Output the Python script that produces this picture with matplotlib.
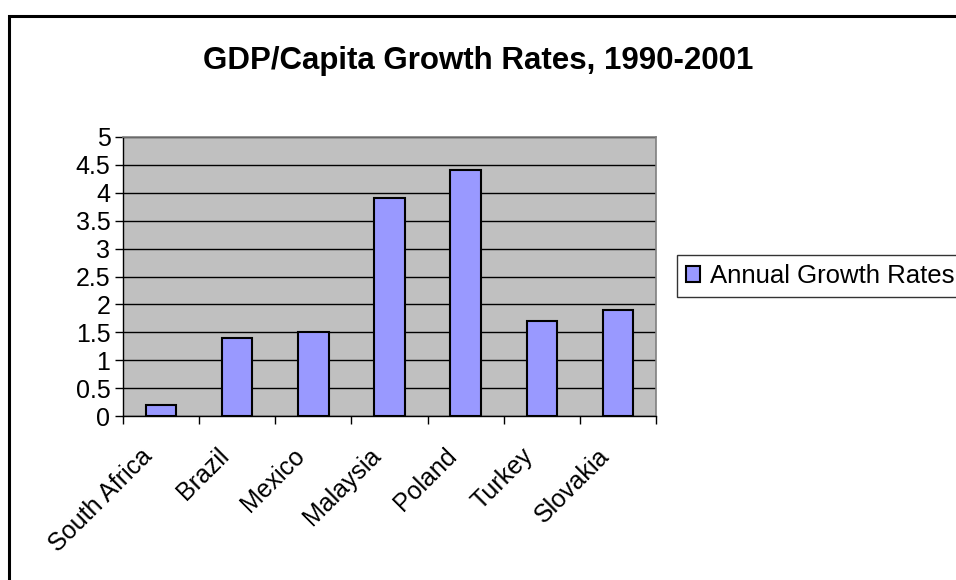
import matplotlib
matplotlib.use('Agg')
import matplotlib.pyplot as plt
import matplotlib.transforms as mtransforms
import numpy as np
from matplotlib.patches import Rectangle

plt.rcParams['font.family'] = ['Liberation Sans', 'DejaVu Sans']

# data
countries = ['South Africa', 'Brazil', 'Mexico', 'Malaysia', 'Poland', 'Turkey', 'Slovakia']
growth = [0.2, 1.4, 1.5, 3.9, 4.4, 1.7, 1.9]
y_ticks = [0, 0.5, 1, 1.5, 2, 2.5, 3, 3.5, 4, 4.5, 5]
y_labels = ['0', '0.5', '1', '1.5', '2', '2.5', '3', '3.5', '4', '4.5', '5']

fig = plt.figure(figsize=(9.56, 5.8), dpi=100)
ax = fig.add_axes([123/956, 1-416/580, (656-123)/956, (416-137)/580])

# outer chart border (runs off the right and bottom edge like the original)
fig.patches.append(Rectangle((9/956, -0.1), 1.2, 1.1 - 16/580, transform=fig.transFigure,
                             fill=False, edgecolor='black', linewidth=2.2, zorder=0))

x = np.arange(len(countries))
ax.set_facecolor('#c0c0c0')
ax.set_axisbelow(True)
ax.yaxis.grid(True, color='black', linewidth=1)
bars = ax.bar(x, growth, width=0.4, color='#9999ff', edgecolor='black', linewidth=1.5,
              label='Annual Growth Rates', zorder=3)

ax.set_xlim(-0.5, len(countries) - 0.5)
ax.set_ylim(0, 5)
ax.set_yticks(y_ticks)
ax.set_yticklabels(y_labels, fontsize=18)

# ticks on category boundaries, labels at centres
ax.set_xticks(np.arange(-0.5, len(countries), 1))
ax.set_xticklabels([])
ax.set_xticks(x, minor=True)
ax.set_xticklabels(countries, minor=True, rotation=45, ha='right', fontsize=18,
                   rotation_mode='anchor')
ax.tick_params(axis='x', which='minor', length=0, pad=20)
ax.tick_params(axis='x', which='major', length=6, color='black', width=1)
ax.tick_params(axis='y', length=6, color='black', width=1, pad=3)

# nudge the rotated labels left so they end just before the bar centre
shift = mtransforms.ScaledTranslation(-0.21, 0, fig.dpi_scale_trans)
for lab in ax.get_xticklabels(minor=True):
    lab.set_transform(lab.get_transform() + shift)

for s in ['top', 'right']:
    ax.spines[s].set_color('#808080')
    ax.spines[s].set_linewidth(1.2)
for s in ['left', 'bottom']:
    ax.spines[s].set_color('black')
    ax.spines[s].set_linewidth(1)

fig.text(0.5, 1 - 61/580, 'GDP/Capita Growth Rates, 1990-2001', ha='center', va='center',
         fontsize=22.5, fontweight='bold')

leg = fig.legend(loc='center left', bbox_to_anchor=(677/956, 1 - 276/580), fontsize=18.5,
                 frameon=True, fancybox=False, edgecolor='black', handlelength=0.55,
                 handleheight=0.55, handletextpad=0.4, borderpad=0.35, borderaxespad=0)
leg.get_frame().set_linewidth(1)

plt.savefig('out.png', dpi=100)
